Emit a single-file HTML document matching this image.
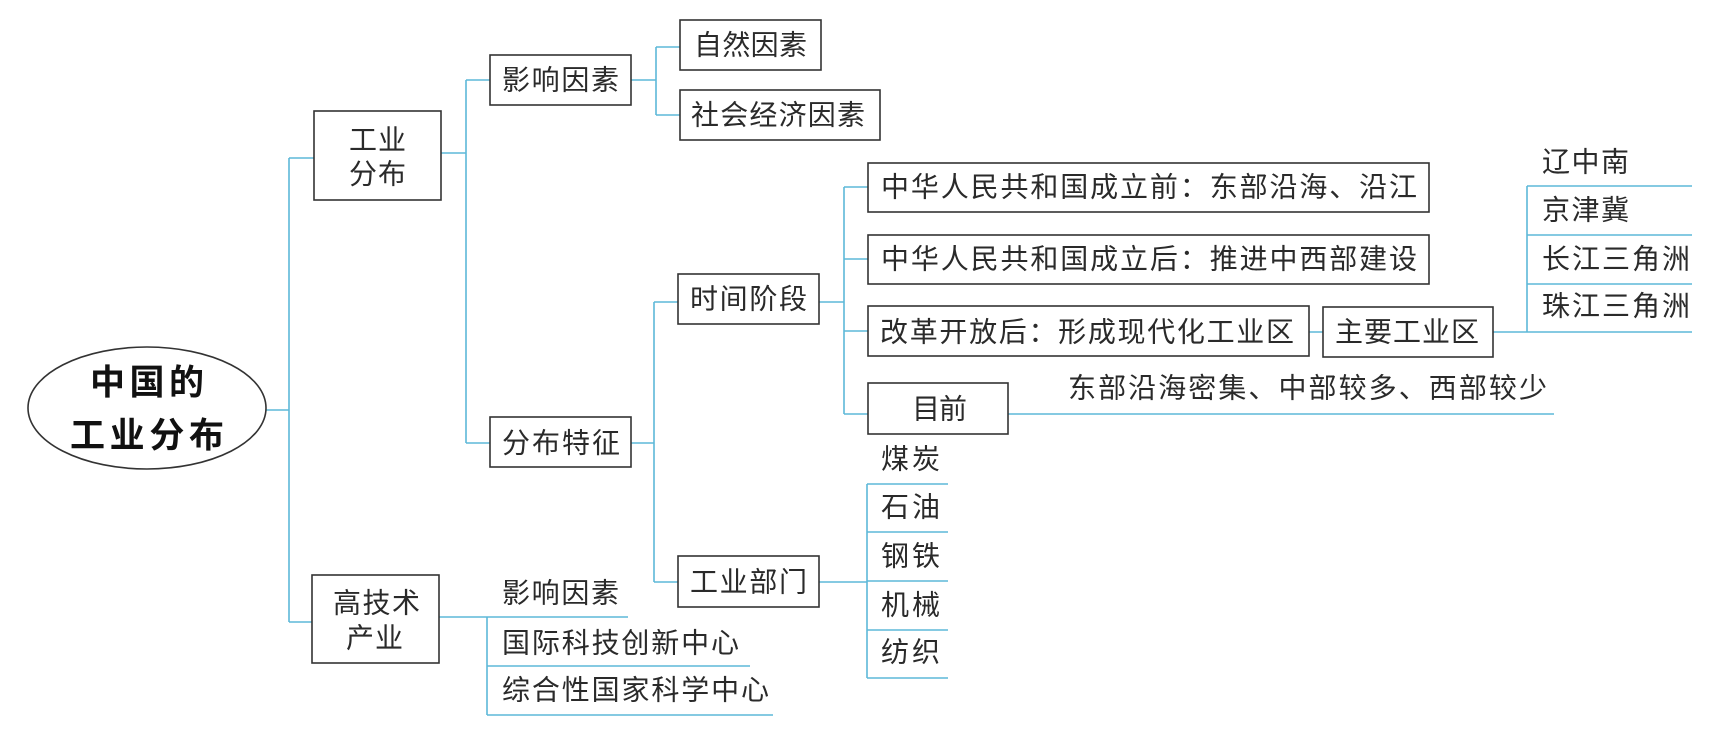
<!DOCTYPE html>
<html><head><meta charset="utf-8"><style>
html,body{margin:0;padding:0;background:#fff;}
svg{display:block;}
text{font-family:"Liberation Sans","Noto Sans CJK SC",sans-serif;fill:#2a2a2a;font-size:28px;dominant-baseline:central;}
</style></head><body>
<svg width="1710" height="733" viewBox="0 0 1710 733" xmlns="http://www.w3.org/2000/svg">
<g stroke="#5db8d8" stroke-width="1.6" fill="none">
<path d="M266 410H289M289 158V622M289 158H314M289 622H312"/>
<path d="M441 153H466M466 80V443M466 80H490M466 443H490"/>
<path d="M631 80H656M656 47V115M656 47H680M656 115H680"/>
<path d="M631 443H654M654 302V582M654 302H678M654 582H678"/>
<path d="M819 302H844M844 187V414M844 187H868M844 259H868M844 331H868M844 414H868"/>
<path d="M1008 414H1554"/>
<path d="M1309 332H1323M1493 332H1527M1527 186V332M1527 186H1692M1527 235H1692M1527 284H1692M1527 332H1692"/>
<path d="M819 582H867M867 484V678M867 484H948M867 532H948M867 581H948M867 630H948M867 678H948"/>
<path d="M439 617H628M487 617V715M487 666H750M487 715H773"/>
</g>
<g stroke="#333" stroke-width="1.6" fill="#fff">
<ellipse cx="147" cy="408" rx="119" ry="61"/>
<rect x="314" y="111" width="127" height="89"/>
<rect x="490" y="55" width="141" height="50"/>
<rect x="680" y="20" width="141" height="50"/>
<rect x="680" y="90" width="200" height="50"/>
<rect x="490" y="417" width="141" height="50"/>
<rect x="678" y="274" width="141" height="50"/>
<rect x="868" y="163" width="561" height="49"/>
<rect x="868" y="235" width="561" height="49"/>
<rect x="868" y="306" width="441" height="50"/>
<rect x="1323" y="307" width="170" height="50"/>
<rect x="868" y="383" width="140" height="51"/>
<rect x="678" y="556" width="141" height="51"/>
<rect x="312" y="575" width="127" height="88"/>
</g>
<text x="90" y="383" textLength="114" style="font-size:35px;font-weight:bold;fill:#111">中国的</text>
<text x="70" y="436" textLength="154" style="font-size:35px;font-weight:bold;fill:#111">工业分布</text>
<text x="349" y="140" textLength="57">工业</text>
<text x="349" y="174" textLength="57">分布</text>
<text x="502" y="80" textLength="117">影响因素</text>
<text x="694" y="45" textLength="113">自然因素</text>
<text x="691" y="115" textLength="174">社会经济因素</text>
<text x="502" y="443" textLength="118">分布特征</text>
<text x="690" y="299" textLength="117">时间阶段</text>
<text x="881" y="187" textLength="536">中华人民共和国成立前：东部沿海、沿江</text>
<text x="881" y="259" textLength="536">中华人民共和国成立后：推进中西部建设</text>
<text x="880" y="332" textLength="414">改革开放后：形成现代化工业区</text>
<text x="1335" y="332" textLength="144">主要工业区</text>
<text x="912" y="409" textLength="55">目前</text>
<text x="1068" y="388" textLength="479">东部沿海密集、中部较多、西部较少</text>
<text x="1542" y="162" textLength="87">辽中南</text>
<text x="1542" y="210" textLength="87">京津冀</text>
<text x="1542" y="259" textLength="148">长江三角洲</text>
<text x="1542" y="306" textLength="148">珠江三角洲</text>
<text x="690" y="582" textLength="117">工业部门</text>
<text x="881" y="459" textLength="59">煤炭</text>
<text x="881" y="507" textLength="59">石油</text>
<text x="881" y="556" textLength="59">钢铁</text>
<text x="881" y="605" textLength="59">机械</text>
<text x="881" y="652" textLength="59">纺织</text>
<text x="333" y="603" textLength="87">高技术</text>
<text x="346" y="638" textLength="57">产业</text>
<text x="502" y="593" textLength="117">影响因素</text>
<text x="502" y="643" textLength="237">国际科技创新中心</text>
<text x="502" y="690" textLength="267">综合性国家科学中心</text>
</svg>
</body></html>
